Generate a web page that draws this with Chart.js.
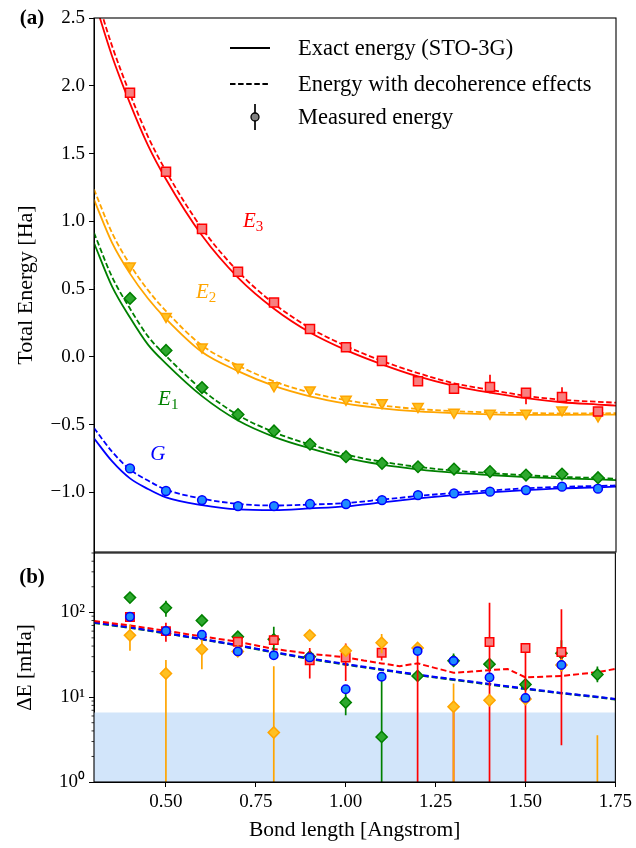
<!DOCTYPE html>
<html><head><meta charset="utf-8">
<script src="https://cdn.jsdelivr.net/npm/chart.js@4.4.0/dist/chart.umd.min.js"></script>
<style>
html,body{margin:0;padding:0;background:#fff;}
#wrap{position:relative;width:636px;height:848px;}
canvas{position:absolute;left:0;top:0;}
</style>
</head><body>
<div id="wrap"><canvas id="topc" width="636" height="848"></canvas><canvas id="botc" width="636" height="848"></canvas></div>
<script>
// ---------------- data ----------------
const bondCurve = [0.3,0.35,0.4,0.45,0.5,0.6,0.7,0.8,0.9,1.0,1.1,1.2,1.3,1.4,1.5,1.6,1.7,1.75];
const exactG  = [-0.601,-0.77,-0.897,-0.975,-1.037,-1.094,-1.126,-1.131,-1.118,-1.103,-1.074,-1.045,-1.020,-1.000,-0.983,-0.970,-0.963,-0.958];
const decohG  = [-0.525,-0.699,-0.831,-0.913,-0.980,-1.046,-1.085,-1.097,-1.090,-1.079,-1.053,-1.027,-1.004,-0.986,-0.970,-0.959,-0.953,-0.949];
const exactE1 = [0.84,0.52,0.29,0.09,-0.05,-0.29,-0.47,-0.59,-0.675,-0.745,-0.795,-0.83,-0.855,-0.872,-0.887,-0.897,-0.904,-0.909];
const decohE1 = [0.915,0.591,0.356,0.151,0.007,-0.242,-0.43,-0.556,-0.647,-0.721,-0.774,-0.812,-0.839,-0.858,-0.874,-0.886,-0.894,-0.900];
const exactE2 = [1.16,0.843,0.614,0.43,0.28,0.035,-0.105,-0.215,-0.292,-0.345,-0.38,-0.403,-0.416,-0.424,-0.428,-0.428,-0.427,-0.426];
const decohE2 = [1.236,0.915,0.68,0.492,0.337,0.084,-0.064,-0.181,-0.263,-0.32,-0.359,-0.385,-0.4,-0.41,-0.415,-0.417,-0.417,-0.416];
const exactE3 = [2.64,2.22,1.87,1.56,1.31,0.895,0.585,0.355,0.18,0.05,-0.055,-0.145,-0.214,-0.264,-0.305,-0.335,-0.352,-0.36];
const decohE3 = [2.72,2.295,1.94,1.625,1.37,0.947,0.63,0.392,0.2125,0.0795,-0.03,-0.12,-0.195,-0.243,-0.288,-0.317,-0.332,-0.3385];

const bondMeas = [0.4,0.5,0.6,0.7,0.8,0.9,1.0,1.1,1.2,1.3,1.4,1.5,1.6,1.7];
const measG  = [-0.823,-0.990,-1.057,-1.101,-1.101,-1.086,-1.086,-1.057,-1.020,-1.008,-0.995,-0.983,-0.958,-0.973];
const measE1 = [0.431,0.047,-0.227,-0.426,-0.547,-0.645,-0.737,-0.786,-0.811,-0.828,-0.847,-0.872,-0.865,-0.892];
const measE2 = [0.670,0.298,0.072,-0.076,-0.214,-0.244,-0.313,-0.338,-0.367,-0.409,-0.417,-0.417,-0.392,-0.436];
const measE3 = [1.949,1.365,0.944,0.628,0.401,0.205,0.070,-0.030,-0.180,-0.236,-0.222,-0.266,-0.296,-0.404];
const measE3Lo = [null,null,null,null,null,null,null,null,null,null,-0.268,-0.350,-0.330,null];
const measE3Hi = [null,null,null,null,null,null,null,null,null,null,-0.133,-0.244,-0.224,null];

// bottom panel: energy error in mHa
const dashBond = [0.3,0.4,0.5,0.6,0.7,0.8,0.9,1.0,1.1,1.2,1.3,1.4,1.5,1.6,1.7,1.75];
const dashG  = [76,66.5,57,48.5,41,34,28.5,24.5,21.2,18.4,16.2,14.3,12.6,11.2,10.1,9.5];
const dashE1 = [75,65.8,56.4,48,40.6,33.6,28.2,24.2,21,18.2,16,14.1,12.5,11.1,10,9.4];
const dashBondE3 = [0.3,0.4,0.5,0.6,0.7,0.8,0.9,1.0,1.05,1.1,1.15,1.2,1.25,1.3,1.35,1.4,1.45,1.5,1.55,1.6,1.65,1.7,1.75];
const dashE3 = [79,70,60.5,52,45,37,32.5,29.5,27,25,23.2,25,22,19.4,20,20.8,21.5,17.1,17.4,17.8,18.7,19.7,21.5];

const dG  = [88.7,60.1,54.4,34.6,31.1,29.4,12.4,17.4,34.9,26.8,17.1,9.8,23.9,null];
const dE1 = [149,113,80,51.5,48,30,8.65,3.4,17.8,26.8,24.5,14.1,33,18.5];
const dE2 = [53.5,19,36.6,34.6,3.83,53.5,35.2,43.8,38,7.7,9.2,9.5,23.9,null];
const dE3 = [88,60,null,45,47,27.3,29.4,33.3,null,null,44.6,37.9,34,null];
const dE1Lo = [null,88.7,null,null,30,null,6.1,0,null,23.2,null,null,20,15];
const dE1Hi = [null,137,null,null,67.6,null,11.2,17,null,32.7,null,null,47,23];
const dE2Lo = [35.2,0,21.3,null,0,49,null,32.9,null,0,null,null,null,0];
const dE2Hi = [72,27.4,52,null,23.2,58,null,55.6,null,14.5,null,null,null,3.56];
const dE3Lo = [null,45,null,null,null,16.6,15.5,27,0,0,0,0,2.71,null];
const dE3Hi = [null,75.4,null,null,null,38,43,39,32,6.7,130,37.9,108.8,null];
const shadeLevel = 6.6;

const topTicks = [-1.0,-0.5,0.0,0.5,1.0,1.5,2.0,2.5];
const bondTicks = [0.5,0.75,1.0,1.25,1.5,1.75];
const logMajor = [1,10,100];
const logLabels = {1:'10\u2070',10:'10\u00B9',100:'10\u00B2'};
const stateLabels = [
  {main:'E', sub:'3', x:0.714, y:0.998, color:'#ff0000'},
  {main:'E', sub:'2', x:0.583, y:0.473, color:'#ffa500'},
  {main:'E', sub:'1', x:0.478, y:-0.318, color:'#008000'},
  {main:'G', sub:'',  x:0.456, y:-0.724, color:'#0000ff'}
];
const legendItems = ['Exact energy (STO-3G)','Energy with decoherence effects','Measured energy'];

// ---------------- style ----------------
const FAM = "'Liberation Serif','Times New Roman',serif";
const RED='#ff0000', ORA='#ffa500', GRN='#008000', BLU='#0000ff';
const FILL = {red:'#f78080', ora:'#ffc022', grn:'#2ea82e', blu:'#1e8cff'};
const pts = (xs, ys) => xs.map((x,i)=>({x:x, y:ys[i]}));

function curve(xs, ys, color, dashed, order){
  return {type:'scatter', showLine:true, data:pts(xs,ys), borderColor:color, borderWidth:1.8,
    borderDash: dashed?[5.5,2.6]:[], pointRadius:0, cubicInterpolationMode:'monotone',
    fill:false, clip:0, order:order};
}
function marks(xs, ys, style, r, fill, edge, order, extra){
  return Object.assign({type:'scatter', data:pts(xs,ys), pointStyle:style, pointRadius:r,
    pointBackgroundColor:fill, pointBorderColor:edge, borderColor:edge, pointBorderWidth:1.5,
    showLine:false, order:order}, extra||{});
}

const framePlugin = {
  id:'frame',
  afterDraw(chart){
    const {ctx, chartArea:a} = chart;
    ctx.save(); ctx.strokeStyle='#000'; ctx.lineWidth=1.1;
    ctx.strokeRect(a.left, a.top, a.right-a.left, a.bottom-a.top);
    ctx.restore();
  }
};
const errPlugin = {
  id:'errbars',
  beforeDatasetDraw(chart, args){
    const ds = chart.data.datasets[args.index];
    if(!ds.errLo) return;
    const {ctx, chartArea:a} = chart, xs = chart.scales.x, ys = chart.scales.y;
    const isLog = ys.type === 'logarithmic';
    ctx.save(); ctx.beginPath(); ctx.rect(a.left, a.top, a.right-a.left, a.bottom-a.top); ctx.clip();
    ctx.strokeStyle = ds.borderColor; ctx.lineWidth = 1.7;
    ds.errX.forEach((x,i)=>{
      const lo = ds.errLo[i], hi = ds.errHi[i];
      if(lo==null || hi==null) return;
      const px = xs.getPixelForValue(x);
      const pLo = (isLog && lo<=0) ? a.bottom+3 : ys.getPixelForValue(lo);
      const pHi = ys.getPixelForValue(hi);
      ctx.beginPath(); ctx.moveTo(px,pLo); ctx.lineTo(px,pHi); ctx.stroke();
    });
    ctx.restore();
  }
};
const topDecor = {
  id:'topDecor',
  afterDraw(chart){
    const {ctx} = chart, xs = chart.scales.x, ys = chart.scales.y;
    ctx.save();
    ctx.fillStyle='#000'; ctx.font = 'bold 21px '+FAM; ctx.textAlign='center'; ctx.textBaseline='middle';
    ctx.fillText('(a)', 32, 19);
    ctx.textAlign='left'; ctx.textBaseline='middle';
    stateLabels.forEach(l=>{
      const px = xs.getPixelForValue(l.x), py = ys.getPixelForValue(l.y);
      ctx.fillStyle = l.color; ctx.font = 'italic 21px '+FAM;
      ctx.fillText(l.main, px, py);
      const w = ctx.measureText(l.main).width;
      if(l.sub){ ctx.font = '15px '+FAM; ctx.fillText(l.sub, px+w, py+5); }
    });
    const lx0 = 230, lx1 = 270, tx = 298, rows = [48, 84, 117];
    ctx.strokeStyle='#000'; ctx.lineWidth=1.8;
    ctx.beginPath(); ctx.moveTo(lx0, rows[0]); ctx.lineTo(lx1, rows[0]); ctx.stroke();
    ctx.setLineDash([5.5,2.6]);
    ctx.beginPath(); ctx.moveTo(lx0, rows[1]); ctx.lineTo(lx1, rows[1]); ctx.stroke();
    ctx.setLineDash([]);
    ctx.lineWidth=1.7;
    ctx.beginPath(); ctx.moveTo(255, rows[2]-13); ctx.lineTo(255, rows[2]+13); ctx.stroke();
    ctx.beginPath(); ctx.arc(255, rows[2], 4, 0, Math.PI*2); ctx.fillStyle='#808080'; ctx.fill();
    ctx.lineWidth=1.3; ctx.stroke();
    ctx.fillStyle='#000'; ctx.font='22.5px '+FAM; ctx.textBaseline='middle';
    legendItems.forEach((t,i)=>ctx.fillText(t, tx, rows[i]+1));
    ctx.restore();
  }
};
const botDecor = {
  id:'botDecor',
  afterDraw(chart){
    const {ctx} = chart, ys = chart.scales.y;
    ctx.save();
    ctx.fillStyle='#000'; ctx.font = 'bold 21px '+FAM; ctx.textAlign='center'; ctx.textBaseline='middle';
    ctx.fillText('(b)', 32, 578);
    ctx.strokeStyle='#000'; ctx.lineWidth=0.8;
    ys.ticks.forEach(t=>{
      if(logMajor.includes(t.value)) return;
      const py = ys.getPixelForValue(t.value);
      ctx.beginPath(); ctx.moveTo(ys.right-2.5, py); ctx.lineTo(ys.right, py); ctx.stroke();
    });
    ctx.restore();
  }
};

const fmtTop = v => (v<0?'\u2212':'') + Math.abs(v).toFixed(1);

// ---------------- top chart ----------------
new Chart(document.getElementById('topc'), {
  type:'scatter',
  data:{datasets:[
    curve(bondCurve, exactE3, RED, false, 20), curve(bondCurve, decohE3, RED, true, 21),
    curve(bondCurve, exactE2, ORA, false, 22), curve(bondCurve, decohE2, ORA, true, 23),
    curve(bondCurve, exactE1, GRN, false, 24), curve(bondCurve, decohE1, GRN, true, 25),
    curve(bondCurve, exactG, BLU, false, 26), curve(bondCurve, decohG, BLU, true, 27),
    marks(bondMeas, measE3, 'rect', 6.4, FILL.red, RED, 1, {errX:bondMeas, errLo:measE3Lo, errHi:measE3Hi}),
    marks(bondMeas, measE2, 'triangle', 6, FILL.ora, ORA, 2, {pointRotation:180}),
    marks(bondMeas, measE1, 'rectRot', 5.8, FILL.grn, GRN, 3),
    marks(bondMeas, measG, 'circle', 4.4, FILL.blu, BLU, 4)
  ]},
  options:{
    responsive:false, animation:false, events:[],
    layout:{autoPadding:false, padding:{left:0, right:20, top:18, bottom:296}},
    plugins:{legend:{display:false}, tooltip:{enabled:false}},
    scales:{
      x:{type:'linear', min:0.3, max:1.75, display:false},
      y:{type:'linear', min:-1.44, max:2.5,
         afterBuildTicks(s){ s.ticks = topTicks.map(v=>({value:v})); },
         afterFit(s){ s.width = 94; },
         ticks:{callback:v=>fmtTop(v), font:{family:FAM, size:19}, color:'#000', padding:4, autoSkip:false},
         grid:{drawOnChartArea:false, tickLength:5, color:'#000', tickWidth:1},
         border:{color:'#000', width:1},
         title:{display:true, text:'Total Energy [Ha]', font:{family:FAM, size:22}, color:'#000', padding:{top:13, bottom:0}}
      }
    }
  },
  plugins:[errPlugin, framePlugin, topDecor]
});

// ---------------- bottom chart ----------------
new Chart(document.getElementById('botc'), {
  type:'scatter',
  data:{datasets:[
    {type:'scatter', showLine:true, data:[{x:0.3,y:shadeLevel},{x:1.75,y:shadeLevel}], borderWidth:0,
     borderColor:'rgba(0,0,0,0)', pointRadius:0, fill:'start', backgroundColor:'#d2e5fa', order:100},
    {type:'scatter', showLine:true, data:pts(dashBond, dashE1), borderColor:GRN, borderWidth:2.2, borderDash:[6,3], pointRadius:0, order:52, clip:0},
    {type:'scatter', showLine:true, data:pts(dashBond, dashG), borderColor:BLU, borderWidth:2.2, borderDash:[6,3], pointRadius:0, order:51, clip:0},
    {type:'scatter', showLine:true, data:pts(dashBondE3, dashE3), borderColor:RED, borderWidth:2.0, borderDash:[6,3], pointRadius:0, order:50, clip:0},
    marks(bondMeas, dE1, 'rectRot', 5.6, FILL.grn, GRN, 10, {errX:bondMeas, errLo:dE1Lo, errHi:dE1Hi}),
    marks(bondMeas, dE3, 'rect', 6.0, FILL.red, RED, 9, {errX:bondMeas, errLo:dE3Lo, errHi:dE3Hi}),
    marks(bondMeas, dE2, 'rectRot', 5.6, FILL.ora, ORA, 8, {errX:bondMeas, errLo:dE2Lo, errHi:dE2Hi}),
    marks(bondMeas, dG, 'circle', 4.2, FILL.blu, BLU, 7)
  ]},
  options:{
    responsive:false, animation:false, events:[],
    layout:{autoPadding:false, padding:{left:0, right:20, top:553, bottom:0}},
    plugins:{legend:{display:false}, tooltip:{enabled:false}},
    scales:{
      x:{type:'linear', min:0.3, max:1.75,
         afterBuildTicks(s){ s.ticks = bondTicks.map(v=>({value:v})); },
         afterFit(s){ s.height = 66; },
         ticks:{callback:v=>v.toFixed(2), font:{family:FAM, size:19}, color:'#000', padding:4, maxRotation:0, autoSkip:false},
         grid:{drawOnChartArea:false, tickLength:5, color:'#000'},
         border:{color:'#000'},
         title:{display:true, text:'Bond length [Angstrom]', font:{family:FAM, size:21.5}, color:'#000', padding:{top:0, bottom:5}}
      },
      y:{type:'logarithmic', min:1, max:500,
         afterBuildTicks(s){
           const t=[]; [1,10,100].forEach(d=>{ for(let k=1;k<=9;k++){ const v=d*k; if(v<=500) t.push({value:v, major:logMajor.includes(v)}); } });
           s.ticks = t;
         },
         afterFit(s){ s.width = 94; },
         ticks:{callback:v=>logLabels[v]||'', font:{family:FAM, size:19}, color:'#000', padding:4, autoSkip:false},
         grid:{drawOnChartArea:false, tickLength:5, color:'#000',
               tickColor:c=> (c.tick && logMajor.includes(c.tick.value)) ? '#000' : 'rgba(0,0,0,0)'},
         border:{color:'#000'},
         title:{display:true, text:'\u0394E [mHa]', font:{family:FAM, size:21}, color:'#000', padding:{top:13, bottom:0}}
      }
    }
  },
  plugins:[errPlugin, framePlugin, botDecor]
});
</script>
</body></html>
